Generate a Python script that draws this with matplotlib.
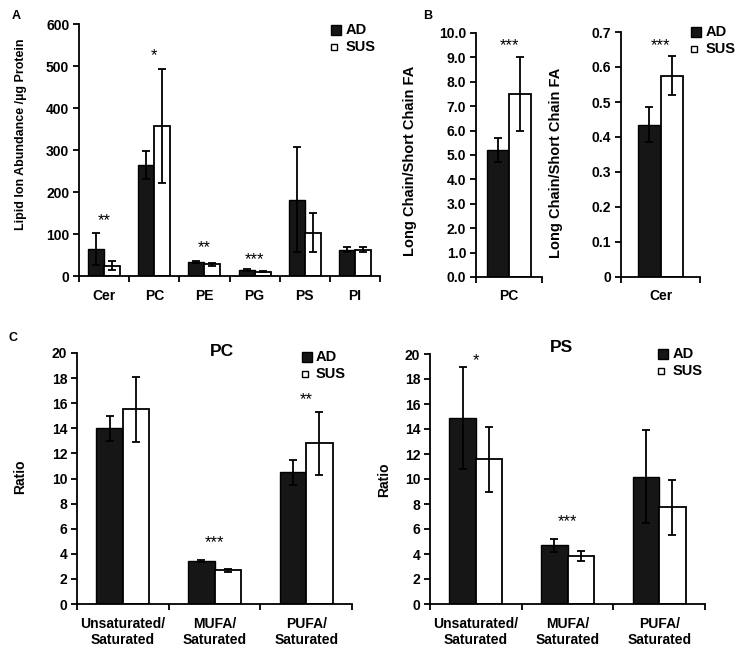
import numpy as np
import matplotlib
matplotlib.use('Agg')
import matplotlib.pyplot as plt
from matplotlib.lines import Line2D

plt.rcParams['font.family'] = ['Liberation Sans', 'DejaVu Sans']
plt.rcParams['font.weight'] = 'bold'
plt.rcParams['axes.labelweight'] = 'bold'

# panel A
a_cats = ['Cer', 'PC', 'PE', 'PG', 'PS', 'PI']
a_ad = [65, 265, 33, 14, 182, 62]
a_ad_err = [38, 33, 3, 2, 126, 6]
a_sus = [25, 357, 28, 10, 103, 62]
a_sus_err = [10, 135, 3, 1.5, 47, 6]
a_stars = ['**', '*', '**', '***', '', '']
a_star_y = [132, 525, 68, 40, 0, 0]

# panel B
b1_cats = ['PC']
b1_ad = [5.2]
b1_ad_err = [0.5]
b1_sus = [7.5]
b1_sus_err = [1.5]
b1_stars = ['***']
b1_star_y = [9.5]

b2_cats = ['Cer']
b2_ad = [0.435]
b2_ad_err = [0.05]
b2_sus = [0.575]
b2_sus_err = [0.055]
b2_stars = ['***']
b2_star_y = [0.66]

# panel C
c_cats = ['Unsaturated/\nSaturated', 'MUFA/\nSaturated', 'PUFA/\nSaturated']
c1_ad = [14.0, 3.45, 10.5]
c1_ad_err = [1.0, 0.08, 1.0]
c1_sus = [15.5, 2.7, 12.8]
c1_sus_err = [2.6, 0.12, 2.5]
c1_stars = ['', '***', '**']
c1_star_y = [0, 4.9, 16.3]

c2_ad = [14.9, 4.7, 10.2]
c2_ad_err = [4.1, 0.5, 3.7]
c2_sus = [11.6, 3.85, 7.75]
c2_sus_err = [2.6, 0.4, 2.2]
c2_stars = ['*', '***', '']
c2_star_y = [19.5, 6.6, 0]

W, H = 745, 669
fig = plt.figure(figsize=(7.45, 6.69), dpi=100)


def px(x, y):
    return x / W, 1 - y / H


def add_ax(l, t, r, b):
    return fig.add_axes([l / W, 1 - b / H, (r - l) / W, (b - t) / H])


def panel(ax, cats, ad, ad_err, sus, sus_err, stars, star_y, width, ylim, yticks, fmt,
          ylabel, lab_xy, lab_fs, xfs=10):
    x = np.arange(len(cats))
    ax.bar(x - width / 2, ad, width, color='#161616', edgecolor='black', linewidth=1.0)
    ax.bar(x + width / 2, sus, width, color='white', edgecolor='black', linewidth=1.3)
    ax.errorbar(x - width / 2, ad, yerr=ad_err, fmt='none', ecolor='black',
                elinewidth=1.3, capsize=3, capthick=1.3)
    ax.errorbar(x + width / 2, sus, yerr=sus_err, fmt='none', ecolor='black',
                elinewidth=1.3, capsize=3, capthick=1.3)
    for xi, s, sy in zip(x, stars, star_y):
        if s:
            ax.text(xi, sy, s, ha='center', va='center', fontsize=12, fontweight='normal')
    ax.set_xlim(-0.5, len(cats) - 0.5)
    ax.set_ylim(*ylim)
    ax.set_yticks(yticks)
    ax.set_yticklabels([fmt(v) for v in yticks], fontsize=10, fontweight='bold')
    ax.set_xticks(x)
    ax.set_xticklabels(cats, fontsize=xfs, fontweight='bold')
    ax.set_xticks(np.arange(len(cats) + 1) - 0.5, minor=True)
    ax.tick_params(axis='x', which='major', length=0, pad=9)
    ax.tick_params(axis='x', which='minor', length=4, width=1.3, direction='out')
    ax.tick_params(axis='y', length=4, width=1.3, direction='out', pad=3)
    for sp in ['top', 'right']:
        ax.spines[sp].set_visible(False)
    for sp in ['left', 'bottom']:
        ax.spines[sp].set_linewidth(1.3)
    ax.set_ylabel(ylabel, fontsize=lab_fs, fontweight='bold')
    ax.yaxis.set_label_coords(*lab_xy)


def legend(sq_x, y1, y2, tx):
    fig.add_artist(Line2D([sq_x / W], [1 - y1 / H], transform=fig.transFigure, marker='s',
                          ls='none', markersize=7.5, markerfacecolor='#161616',
                          markeredgecolor='black'))
    fig.add_artist(Line2D([(sq_x - 2) / W], [1 - y2 / H], transform=fig.transFigure,
                          marker='s', ls='none', markersize=5, markerfacecolor='white',
                          markeredgecolor='black', markeredgewidth=1.0))
    fig.text(*px(tx, y1), 'AD', ha='left', va='center', fontsize=10.5, fontweight='bold')
    fig.text(*px(tx, y2), 'SUS', ha='left', va='center', fontsize=10.5, fontweight='bold')


axA = add_ax(79, 24, 380, 276)
panel(axA, a_cats, a_ad, a_ad_err, a_sus, a_sus_err, a_stars, a_star_y, 0.32,
      (0, 600), np.arange(0, 601, 100), lambda v: '%d' % v,
      'Lipid Ion Abundance /µg Protein', (-0.172, 0.563), 9)

axB1 = add_ax(476, 33, 542, 277)
panel(axB1, b1_cats, b1_ad, b1_ad_err, b1_sus, b1_sus_err, b1_stars, b1_star_y, 0.33,
      (0, 10), np.arange(0, 10.01, 1.0), lambda v: '%.1f' % v,
      'Long Chain/Short Chain FA', (-0.90, 0.475), 10.5)

axB2 = add_ax(621, 32, 700, 277)
panel(axB2, b2_cats, b2_ad, b2_ad_err, b2_sus, b2_sus_err, b2_stars, b2_star_y, 0.29,
      (0, 0.7), np.round(np.arange(0, 0.71, 0.1), 1), lambda v: '0' if v == 0 else '%.1f' % v,
      'Long Chain/Short Chain FA', (-0.74, 0.467), 10.5)

axC1 = add_ax(77, 353, 352, 604)
panel(axC1, c_cats, c1_ad, c1_ad_err, c1_sus, c1_sus_err, c1_stars, c1_star_y, 0.29,
      (0, 20), np.arange(0, 21, 2), lambda v: '%d' % v, 'Ratio', (-0.18, 0.506), 10)

axC2 = add_ax(430, 354, 705, 604)
panel(axC2, c_cats, c2_ad, c2_ad_err, c2_sus, c2_sus_err, c2_stars, c2_star_y, 0.29,
      (0, 20), np.arange(0, 21, 2), lambda v: '%d' % v, 'Ratio', (-0.14, 0.498), 10)

fig.text(*px(222, 352), 'PC', ha='center', va='center', fontsize=12.5, fontweight='bold')
fig.text(*px(561, 347), 'PS', ha='center', va='center', fontsize=12.5, fontweight='bold')

legend(335.5, 30, 47, 346)
legend(696, 32, 49, 706)
legend(307, 357, 374, 316)
legend(662.5, 354, 371, 673)

fig.text(*px(16, 16), 'A', ha='center', va='center', fontsize=9, fontweight='bold')
fig.text(*px(428, 16), 'B', ha='center', va='center', fontsize=9, fontweight='bold')
fig.text(*px(13, 338), 'C', ha='center', va='center', fontsize=9, fontweight='bold')

fig.savefig('out.png', dpi=100)
